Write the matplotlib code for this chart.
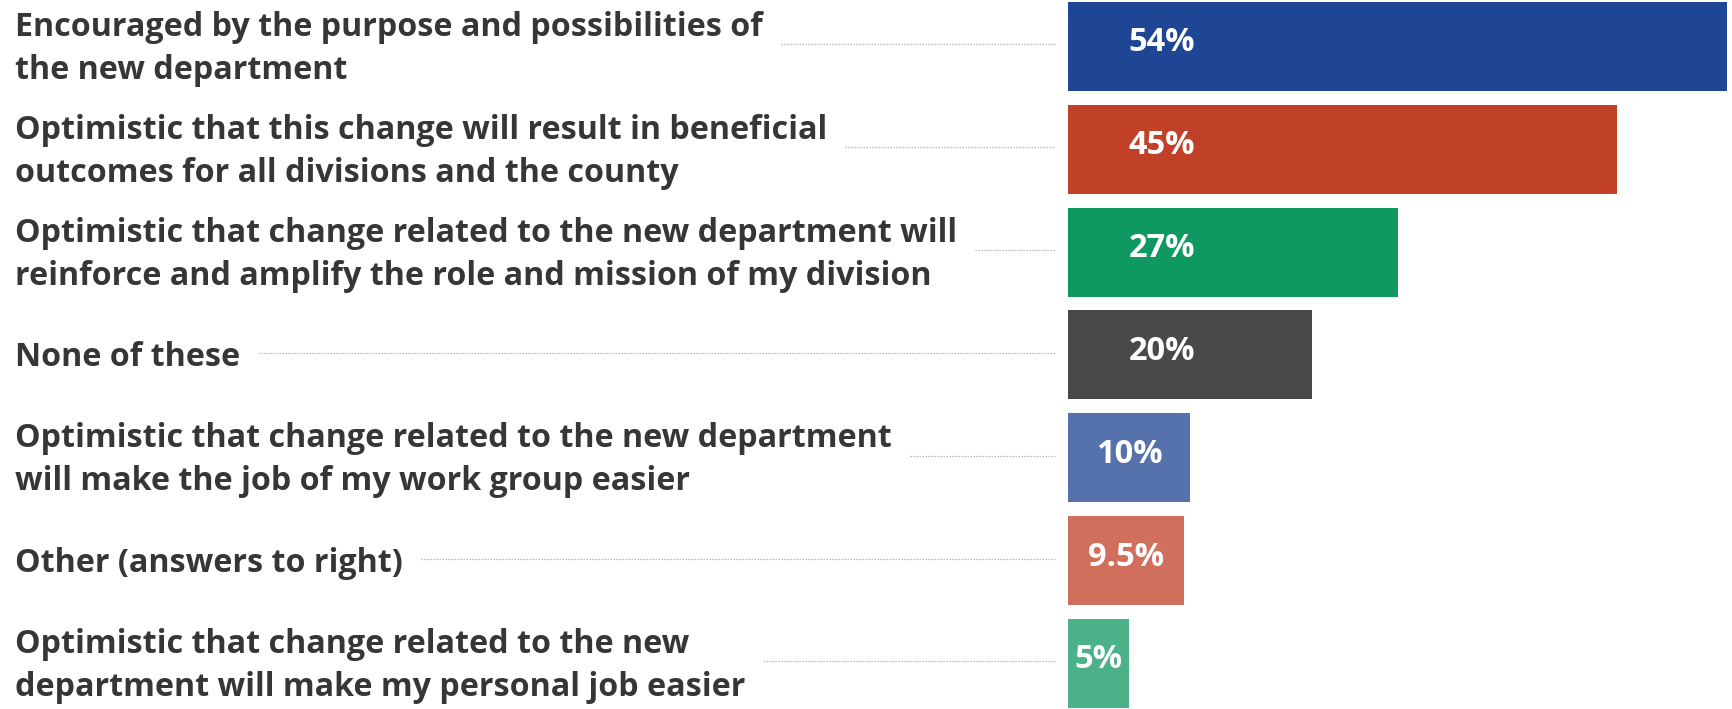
import numpy as np
import matplotlib
matplotlib.use("Agg")
import matplotlib.pyplot as plt
import matplotlib.transforms as mtransforms

# survey answers, top to bottom
answers = [
    "Encouraged by the purpose and possibilities of\nthe new department",
    "Optimistic that this change will result in beneficial\noutcomes for all divisions and the county",
    "Optimistic that change related to the new department will\nreinforce and amplify the role and mission of my division",
    "None of these",
    "Optimistic that change related to the new department\nwill make the job of my work group easier",
    "Other (answers to right)",
    "Optimistic that change related to the new\ndepartment will make my personal job easier",
]
shares = [54, 45, 27, 20, 10, 9.5, 5]
share_labels = ["54%", "45%", "27%", "20%", "10%", "9.5%", "5%"]
bar_colors = ["#1f4695", "#c14128", "#0f9960", "#49494b", "#5572ad", "#d06f5c", "#4ab188"]

W, H, DPI = 1733, 709, 100
fig = plt.figure(figsize=(W / DPI, H / DPI), dpi=DPI)
fig.patch.set_facecolor("white")

x0_px, x1_px = 1068, 1727
ax = fig.add_axes([x0_px / W, 0, (x1_px - x0_px) / W, 1])
ax.set_axis_off()

ypos = np.arange(len(shares))
ax.barh(ypos, shares, height=0.866, color=bar_colors, left=0)
ax.set_xlim(0, max(shares))
ax.set_ylim(6.443, -0.452)

TXT = "#363636"
lab_font = dict(family=["Open Sans", "DejaVu Sans"], weight="bold")

# percentage labels inside bars
px_per_unit = (x1_px - x0_px) / max(shares)
fixed_x = 94 / px_per_unit
for y, v, s in zip(ypos, shares, share_labels):
    xc = fixed_x if v / 2 > fixed_x else v / 2
    ax.text(xc, y - 0.035, s, ha="center", va="center", color="white", fontsize=23.5, **lab_font)

# category labels on the left with dotted leaders
blend = mtransforms.blended_transform_factory(fig.transFigure, ax.transData)
renderer = fig.canvas.get_renderer()
line_gap = 0.21
for y, label in zip(ypos, answers):
    lines = label.split("\n")
    offs = [0.0] if len(lines) == 1 else [-line_gap, line_gap]
    right = 0
    for off, ln in zip(offs, lines):
        t = ax.text(15 / W, y + off + 0.025, ln, ha="left", va="center", color=TXT,
                    fontsize=23.2, transform=blend, **lab_font)
        bb = t.get_window_extent(renderer)
        right = max(right, bb.x1)
    ax.plot([(right + 18) / W, 1055 / W], [y - 0.02, y - 0.02], transform=blend, clip_on=False,
            color="#a8a8a8", lw=0.9, linestyle=(0, (1, 1.4)))

fig.savefig("out.png", dpi=DPI, facecolor="white")
